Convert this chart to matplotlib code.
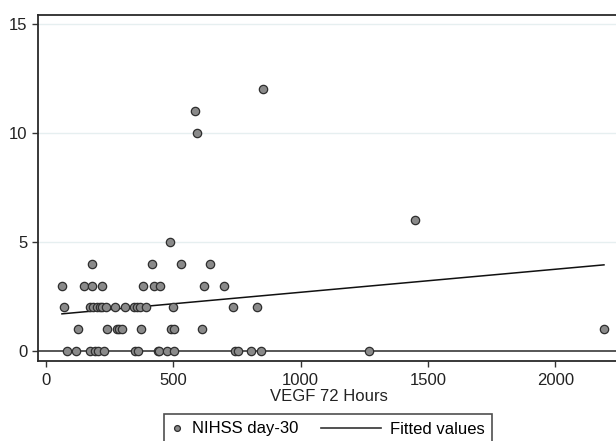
import matplotlib
matplotlib.use("Agg")
import matplotlib.pyplot as plt
import numpy as np
from matplotlib.legend_handler import HandlerLine2D
from matplotlib.lines import Line2D

# NIHSS day-30 score by VEGF at 72 hours, grouped by score
vegf_0 = [84, 120, 175, 192, 206, 230, 350, 362, 440, 446, 476, 504, 742, 755, 806, 845, 1268]
vegf_1 = [125, 240, 280, 288, 300, 373, 490, 502, 612, 2191]
vegf_2 = [70, 172, 186, 200, 211, 221, 236, 272, 312, 345, 358, 368, 392, 498, 734, 829]
vegf_3 = [63, 148, 182, 219, 380, 424, 448, 622, 700]
vegf_4 = [180, 416, 530, 646]
vegf_5 = [486]
vegf_6 = [1449]
vegf_10 = [594]
vegf_11 = [585]
vegf_12 = [854]

groups = {0: vegf_0, 1: vegf_1, 2: vegf_2, 3: vegf_3, 4: vegf_4, 5: vegf_5,
          6: vegf_6, 10: vegf_10, 11: vegf_11, 12: vegf_12}

x_ticks = [0, 500, 1000, 1500, 2000]
y_ticks = [0, 5, 10, 15]


class LongLineHandler(HandlerLine2D):
    # line handle that reaches back to the left of its handle box
    def create_artists(self, legend, orig_handle, xdescent, ydescent,
                       width, height, fontsize, trans):
        y = height / 2 - ydescent
        line = Line2D([-4.2 * width - xdescent, width - xdescent], [y, y],
                      color="#333333", lw=1.2)
        line.set_transform(trans)
        return [line]


def main():
    x = np.concatenate([np.array(v, dtype=float) for v in groups.values()])
    y = np.concatenate([np.full(len(v), k, dtype=float) for k, v in groups.items()])

    slope, intercept = np.polyfit(x, y, 1)
    fx = np.array([x.min(), x.max()])
    fy = intercept + slope * fx

    plt.rcParams["font.family"] = ["Liberation Sans", "DejaVu Sans"]
    fig = plt.figure(figsize=(6.16, 4.41), dpi=100)
    ax = fig.add_axes([38 / 616, 1 - 361 / 441, 581 / 616, 346 / 441])

    for gy in [5, 10, 15]:
        ax.axhline(gy, color="#e6eff0", lw=1, zorder=0)
    ax.axhline(0, color="#3a3a3a", lw=1.2, zorder=1)

    pts, = ax.plot(x, y, "o", ms=6, mfc="#8a8a8a", mec="#2e2e2e", mew=0.9,
                   zorder=3, label="NIHSS day-30")
    fit, = ax.plot(fx, fy, color="#111111", lw=1.1, zorder=2, label="Fitted values")

    ax.set_xlim(-31, 2250)
    ax.set_ylim(-0.46, 15.4)
    ax.set_xticks(x_ticks)
    ax.set_yticks(y_ticks)
    ax.tick_params(direction="out", length=4.5, width=1, color="#333333",
                   labelsize=12, labelcolor="#222222", pad=3)
    ax.tick_params(axis="x", pad=4)
    for s in ["left", "bottom", "top"]:
        ax.spines[s].set_color("#2a2a2a")
        ax.spines[s].set_linewidth(1.3)
    ax.spines["right"].set_visible(False)

    ax.set_xlabel("VEGF 72 Hours", fontsize=12, color="#222222", labelpad=1)

    leg = fig.legend([pts, fit], ["NIHSS day-30", "Fitted values"], ncol=2,
                     loc="upper left", bbox_to_anchor=(164 / 616, 1 - 414 / 441),
                     borderaxespad=0, fontsize=12, handlelength=0.7,
                     handletextpad=0.5, columnspacing=4.3, markerscale=0.7,
                     frameon=True, fancybox=False, edgecolor="#222222",
                     borderpad=0.45, handler_map={fit: LongLineHandler()})
    leg.get_frame().set_linewidth(1.2)

    fig.savefig("out.png", dpi=100)


if __name__ == "__main__":
    main()
